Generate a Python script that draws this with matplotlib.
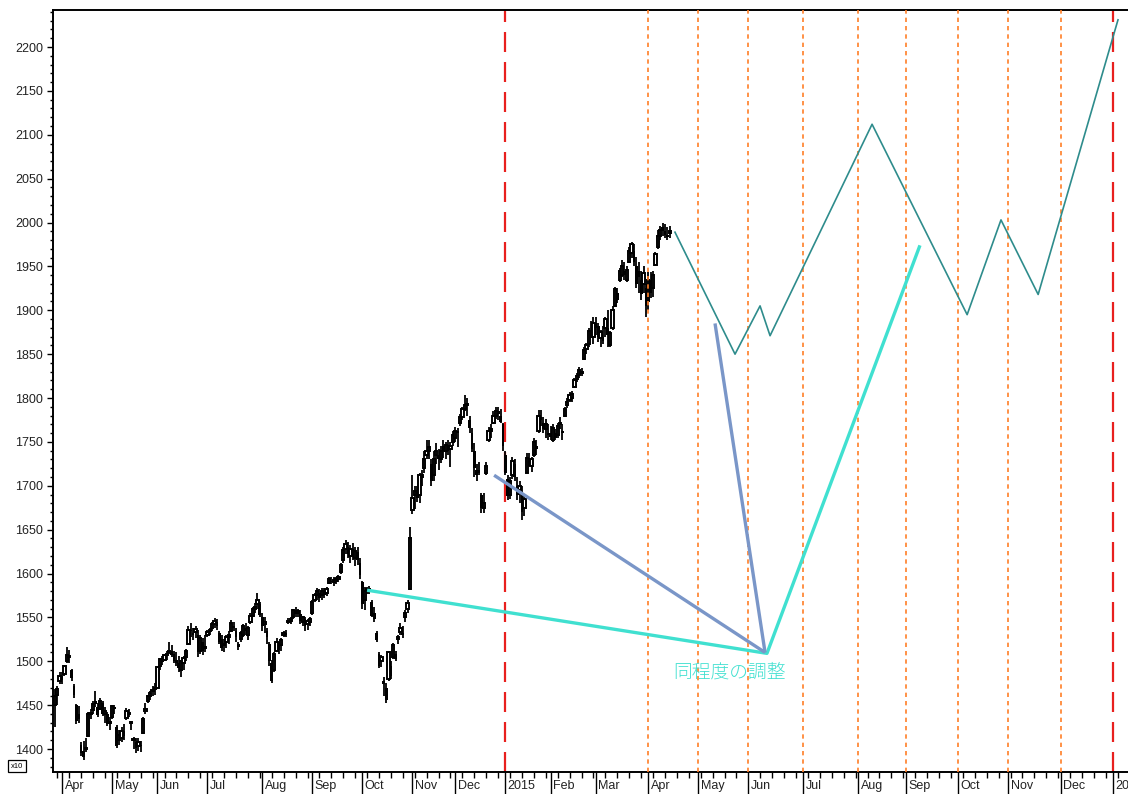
import numpy as np
import matplotlib
matplotlib.use('Agg')
import matplotlib.pyplot as plt
from matplotlib import transforms

plt.rcParams['font.family'] = ['Liberation Sans', 'DejaVu Sans']

# ---------------- data ----------------
first_day = -3  # trading-day index of first bar (0 = first day of Apr 2014)

opens = [
    1450, 1462, 1478,
    1483, 1485, 1500, 1505, 1490, 1472, 1450, 1440, 1405, 1398, 1400, 1415, 1440, 1445, 1455, 1448, 1446, 1452, 1440, 1440, 1430,
    1436, 1448, 1425, 1410, 1412, 1420, 1435, 1440, 1430, 1410, 1408, 1404, 1405, 1418, 1443, 1455, 1460, 1466, 1468,
    1470, 1495, 1500, 1502, 1507, 1510, 1512, 1508, 1502, 1498, 1490, 1498, 1505, 1520, 1536, 1532, 1533, 1530, 1512, 1522, 1515,
    1530, 1534, 1538, 1542, 1545, 1532, 1525, 1518, 1522, 1528, 1535, 1540, 1535, 1520, 1525, 1530, 1538, 1530, 1545, 1552, 1560, 1565, 1565,
    1550, 1542, 1535, 1520, 1498, 1490, 1512, 1518, 1518, 1530, 1532, 1545, 1546, 1550, 1558, 1555, 1554, 1545, 1548, 1542, 1545,
    1555, 1570, 1575, 1578, 1575, 1580, 1578, 1589, 1592, 1590, 1592, 1594, 1602, 1615, 1628, 1630, 1620, 1628, 1618, 1625, 1612,
    1590, 1570, 1580, 1583, 1568, 1555, 1532, 1508, 1500, 1478, 1470, 1480, 1495, 1505, 1508, 1525, 1533, 1532, 1550, 1560, 1582,
    1672, 1690, 1690, 1690, 1710, 1720, 1735, 1740, 1725, 1712, 1735, 1735, 1730, 1745, 1740, 1745, 1742, 1750,
    1755, 1762, 1771, 1778, 1788, 1792, 1775, 1760, 1740, 1718, 1718, 1690, 1675, 1715, 1752, 1762, 1772, 1780, 1785, 1780, 1770,
    1735, 1708, 1690, 1712, 1725, 1700, 1695, 1690, 1675, 1715, 1730, 1722, 1735, 1745, 1762, 1778, 1772, 1765, 1760,
    1760, 1752, 1760, 1758, 1770, 1762, 1780, 1792, 1798, 1800, 1812, 1822, 1826, 1828, 1845, 1856, 1862, 1878, 1870,
    1885, 1882, 1868, 1870, 1880, 1880, 1860, 1880, 1905, 1920, 1935, 1940, 1945, 1935, 1955, 1965, 1968, 1950, 1945, 1935, 1930, 1925,
    1910, 1935, 1925, 1952, 1972, 1985, 1995, 1990, 1986, 1988,
]
highs = [
    1468, 1472, 1488,
    1488, 1496, 1516, 1513, 1491, 1474, 1451, 1449, 1408, 1409, 1412, 1442, 1446, 1455, 1466, 1452, 1458, 1455, 1448, 1442, 1436,
    1450, 1450, 1427, 1422, 1425, 1428, 1447, 1446, 1432, 1414, 1412, 1412, 1409, 1436, 1452, 1462, 1466, 1472, 1475,
    1494, 1504, 1506, 1508, 1512, 1522, 1518, 1512, 1510, 1506, 1502, 1506, 1514, 1540, 1544, 1538, 1540, 1536, 1530, 1526, 1530,
    1536, 1538, 1545, 1549, 1548, 1535, 1530, 1525, 1530, 1534, 1547, 1545, 1538, 1522, 1534, 1542, 1544, 1540, 1555, 1562, 1566, 1578, 1568,
    1555, 1550, 1538, 1522, 1502, 1510, 1526, 1522, 1526, 1535, 1536, 1549, 1550, 1560, 1562, 1560, 1558, 1552, 1550, 1548, 1550,
    1570, 1578, 1583, 1582, 1583, 1584, 1585, 1596, 1596, 1596, 1596, 1598, 1612, 1630, 1638, 1636, 1632, 1635, 1630, 1630, 1618,
    1592, 1585, 1585, 1586, 1570, 1562, 1534, 1510, 1507, 1482, 1475, 1512, 1500, 1521, 1512, 1530, 1544, 1540, 1558, 1570, 1653,
    1712, 1700, 1700, 1714, 1718, 1740, 1752, 1752, 1730, 1740, 1749, 1742, 1745, 1752, 1750, 1752, 1750, 1762,
    1767, 1766, 1782, 1790, 1803, 1800, 1780, 1766, 1749, 1725, 1727, 1692, 1692, 1727, 1767, 1770, 1785, 1790, 1790, 1788, 1771,
    1740, 1712, 1710, 1733, 1730, 1710, 1706, 1700, 1690, 1737, 1737, 1733, 1754, 1752, 1786, 1786, 1778, 1776, 1770,
    1768, 1770, 1765, 1772, 1778, 1770, 1790, 1800, 1807, 1808, 1823, 1828, 1835, 1834, 1858, 1863, 1880, 1888, 1892,
    1892, 1885, 1878, 1882, 1892, 1900, 1876, 1905, 1927, 1925, 1948, 1957, 1955, 1950, 1972, 1978, 1975, 1961, 1955, 1945, 1950, 1930,
    1944, 1944, 1945, 1966, 1991, 1996, 2000, 1998, 1995, 1996,
]
lows = [
    1425, 1450, 1474,
    1474, 1483, 1498, 1498, 1478, 1458, 1428, 1430, 1392, 1388, 1397, 1414, 1434, 1440, 1448, 1436, 1444, 1438, 1430, 1426, 1422,
    1434, 1440, 1401, 1405, 1408, 1410, 1433, 1436, 1422, 1400, 1396, 1398, 1397, 1417, 1440, 1452, 1456, 1460, 1462,
    1468, 1490, 1496, 1500, 1502, 1508, 1505, 1498, 1495, 1488, 1482, 1490, 1500, 1518, 1528, 1524, 1526, 1505, 1508, 1507, 1510,
    1528, 1530, 1535, 1538, 1536, 1520, 1512, 1510, 1515, 1520, 1533, 1535, 1522, 1513, 1522, 1528, 1530, 1524, 1543, 1550, 1555, 1560, 1550,
    1535, 1532, 1520, 1495, 1475, 1488, 1510, 1508, 1512, 1528, 1528, 1542, 1542, 1548, 1550, 1550, 1542, 1540, 1535, 1536, 1540,
    1553, 1567, 1570, 1568, 1570, 1572, 1574, 1588, 1588, 1586, 1588, 1590, 1600, 1612, 1622, 1618, 1612, 1615, 1608, 1610, 1594,
    1560, 1558, 1577, 1577, 1550, 1545, 1522, 1492, 1493, 1460, 1453, 1478, 1480, 1503, 1500, 1520, 1530, 1526, 1545, 1555, 1581,
    1668, 1674, 1682, 1680, 1700, 1715, 1730, 1730, 1700, 1706, 1725, 1718, 1726, 1732, 1730, 1735, 1721, 1745,
    1750, 1744, 1768, 1775, 1785, 1780, 1760, 1738, 1710, 1706, 1712, 1669, 1669, 1712, 1750, 1755, 1770, 1776, 1775, 1771, 1740,
    1712, 1684, 1685, 1708, 1706, 1684, 1680, 1661, 1665, 1714, 1722, 1716, 1733, 1735, 1760, 1768, 1760, 1755, 1752,
    1752, 1750, 1752, 1755, 1765, 1752, 1778, 1789, 1795, 1796, 1811, 1818, 1823, 1825, 1843, 1850, 1858, 1868, 1862,
    1872, 1864, 1858, 1862, 1870, 1858, 1858, 1878, 1904, 1908, 1932, 1938, 1935, 1932, 1954, 1960, 1950, 1925, 1920, 1912, 1920, 1892,
    1900, 1914, 1915, 1950, 1970, 1980, 1985, 1982, 1980, 1982,
]
closes = [
    1460, 1468, 1483,
    1479, 1495, 1507, 1506, 1481, 1461, 1432, 1434, 1396, 1391, 1400, 1440, 1441, 1451, 1451, 1439, 1455, 1440, 1443, 1429, 1430,
    1449, 1446, 1403, 1416, 1420, 1415, 1443, 1441, 1430, 1410, 1401, 1408, 1404, 1434, 1446, 1460, 1464, 1467, 1468,
    1493, 1503, 1499, 1507, 1508, 1512, 1507, 1500, 1498, 1492, 1500, 1504, 1512, 1536, 1535, 1530, 1537, 1510, 1526, 1512, 1516,
    1533, 1536, 1543, 1546, 1540, 1522, 1515, 1520, 1528, 1530, 1544, 1538, 1528, 1516, 1532, 1540, 1535, 1538, 1552, 1560, 1562, 1570, 1553,
    1540, 1545, 1528, 1500, 1478, 1508, 1522, 1513, 1524, 1532, 1530, 1546, 1548, 1558, 1554, 1557, 1546, 1550, 1540, 1546, 1548,
    1568, 1575, 1580, 1572, 1580, 1576, 1582, 1594, 1590, 1593, 1594, 1596, 1610, 1627, 1634, 1622, 1628, 1620, 1626, 1615, 1598,
    1565, 1580, 1582, 1579, 1552, 1548, 1524, 1495, 1505, 1474, 1456, 1510, 1483, 1519, 1503, 1528, 1538, 1530, 1555, 1566, 1641,
    1686, 1694, 1686, 1712, 1712, 1730, 1740, 1744, 1705, 1730, 1740, 1730, 1740, 1738, 1746, 1740, 1745, 1758,
    1762, 1760, 1778, 1787, 1792, 1793, 1766, 1742, 1720, 1712, 1715, 1675, 1680, 1722, 1762, 1765, 1780, 1785, 1782, 1773, 1745,
    1715, 1688, 1705, 1728, 1710, 1690, 1700, 1670, 1685, 1732, 1728, 1730, 1750, 1742, 1780, 1775, 1765, 1770, 1758,
    1756, 1766, 1755, 1768, 1772, 1760, 1788, 1796, 1803, 1805, 1820, 1825, 1832, 1830, 1855, 1860, 1876, 1874, 1885,
    1880, 1870, 1875, 1865, 1890, 1872, 1874, 1900, 1924, 1912, 1945, 1950, 1940, 1946, 1968, 1975, 1955, 1930, 1938, 1918, 1942, 1905,
    1935, 1920, 1940, 1964, 1985, 1992, 1990, 1986, 1984, 1990,
]

# trading days per month, Apr 2014 ... Dec 2015, and month labels (Apr 2014 ... Jan 2016)
month_days = [21, 19, 21, 23, 21, 21, 21, 18, 21, 19, 19, 22, 21, 21, 23, 23, 20, 22, 21, 22, 22]
month_labels = ['Apr', 'May', 'Jun', 'Jul', 'Aug', 'Sep', 'Oct', 'Nov', 'Dec', '2015', 'Feb', 'Mar',
                'Apr', 'May', 'Jun', 'Jul', 'Aug', 'Sep', 'Oct', 'Nov', 'Dec', '2016']

# projection path (teal)
proj_days = [257.2, 282.4, 292.9, 297.1, 339.9, 379.8, 394.0, 409.6, 443.1]
proj_prices = [1989, 1850, 1905, 1871, 2112, 1895, 2003, 1918, 2231]

# turquoise "same-size correction" line
cyan_days = [128.0, 295.8, 360.0]
cyan_prices = [1581, 1509, 1974]

# steel-blue lines
blue1_days = [181.3, 295.0]
blue1_prices = [1712, 1510]
blue2_days = [274.0, 295.0]
blue2_prices = [1885, 1510]

annot_text = '同程度の調整'
annot_day, annot_price = 256.4, 1486.6

y_ticks = [1400, 1450, 1500, 1550, 1600, 1650, 1700, 1750, 1800, 1850, 1900, 1950, 2000, 2050, 2100, 2150, 2200]

# ---------------- figure ----------------
W, H = 1128, 794
fig = plt.figure(figsize=(W / 100, H / 100), dpi=100)
ax = fig.add_axes([53 / W, 1 - 772 / H, (W - 53) / W, (772 - 10) / H])
ax.set_xlim(-3.8, 447.3)
ax.set_ylim(1373.8, 2242.2)

o = np.array(opens, float)
h = np.array(highs, float)
l = np.array(lows, float)
c = np.array(closes, float)
x = np.arange(len(c)) + first_day
up = c >= o

ax.vlines(x, l, h, color='black', lw=1.3, zorder=3)
ax.bar(x[up], np.maximum(c - o, 1.0)[up], bottom=o[up], width=1.0, facecolor='white',
       edgecolor='black', lw=1.4, zorder=4)
ax.bar(x[~up], np.maximum(o - c, 1.0)[~up], bottom=c[~up], width=1.15, color='black', lw=0, zorder=4)

month_starts = np.concatenate([[0], np.cumsum(month_days)])

# vertical guide lines
for pos, lab in zip(month_starts, month_labels):
    if lab in ('2015', '2016'):
        ax.axvline(pos, color='#E8201E', lw=1.6, ls=(0, (9, 4.5)), zorder=2)
orange_idx = range(12, 21)
for i in orange_idx:
    ax.axvline(month_starts[i], color='#FF7F27', lw=1.2, ls=(0, (2.6, 2.4)), zorder=5)

ax.plot(proj_days, proj_prices, color='#2E8C8C', lw=1.2, zorder=6)
ax.plot(cyan_days, cyan_prices, color='#40E0D0', lw=2.4, zorder=6, solid_capstyle='butt')
ax.plot(blue1_days, blue1_prices, color='#7A96C8', lw=2.4, zorder=6, solid_capstyle='butt')
ax.plot(blue2_days, blue2_prices, color='#7A96C8', lw=2.4, zorder=6, solid_capstyle='butt')

ax.text(annot_day, annot_price, annot_text, color='#40E0D0', fontsize=13.5,
        family=['Noto Sans CJK JP', 'DejaVu Sans'], fontweight='light',
        va='center', ha='left', zorder=7)

# y axis
ax.set_yticks(y_ticks)
ax.set_yticklabels([str(v) for v in y_ticks])
ax.set_yticks(np.arange(1380, 2241, 10), minor=True)
ax.tick_params(axis='y', which='major', length=4.5, width=1.0, pad=2.5, labelsize=9,
               labelcolor='#222222', direction='out')
ax.tick_params(axis='y', which='minor', length=2.2, width=1.0, direction='out')

# x axis
ax.set_xticks(month_starts)
ax.set_xticklabels([''] * len(month_starts))
ax.set_xticks(np.arange(-2, 447, 5), minor=True)
ax.tick_params(axis='x', which='major', length=16, width=1.0, direction='out')
ax.tick_params(axis='x', which='minor', length=4, width=1.0, direction='out')
trans = transforms.blended_transform_factory(ax.transData, ax.transAxes) + \
    transforms.ScaledTranslation(2.5 / 100, -8 / 100, fig.dpi_scale_trans)
for pos, lab in zip(month_starts, month_labels):
    ax.text(pos, 0, lab, transform=trans, ha='left', va='top', fontsize=9, color='#222222',
            clip_on=False)

for s in ('left', 'top', 'bottom'):
    ax.spines[s].set_linewidth(1.4)
ax.spines['right'].set_visible(False)

fig.text(11 / W, 1 - 766 / H, 'x10', fontsize=5.5, ha='left', va='center',
         bbox=dict(facecolor='white', edgecolor='black', lw=0.9, pad=1.8))

fig.savefig('out.png', dpi=100)
